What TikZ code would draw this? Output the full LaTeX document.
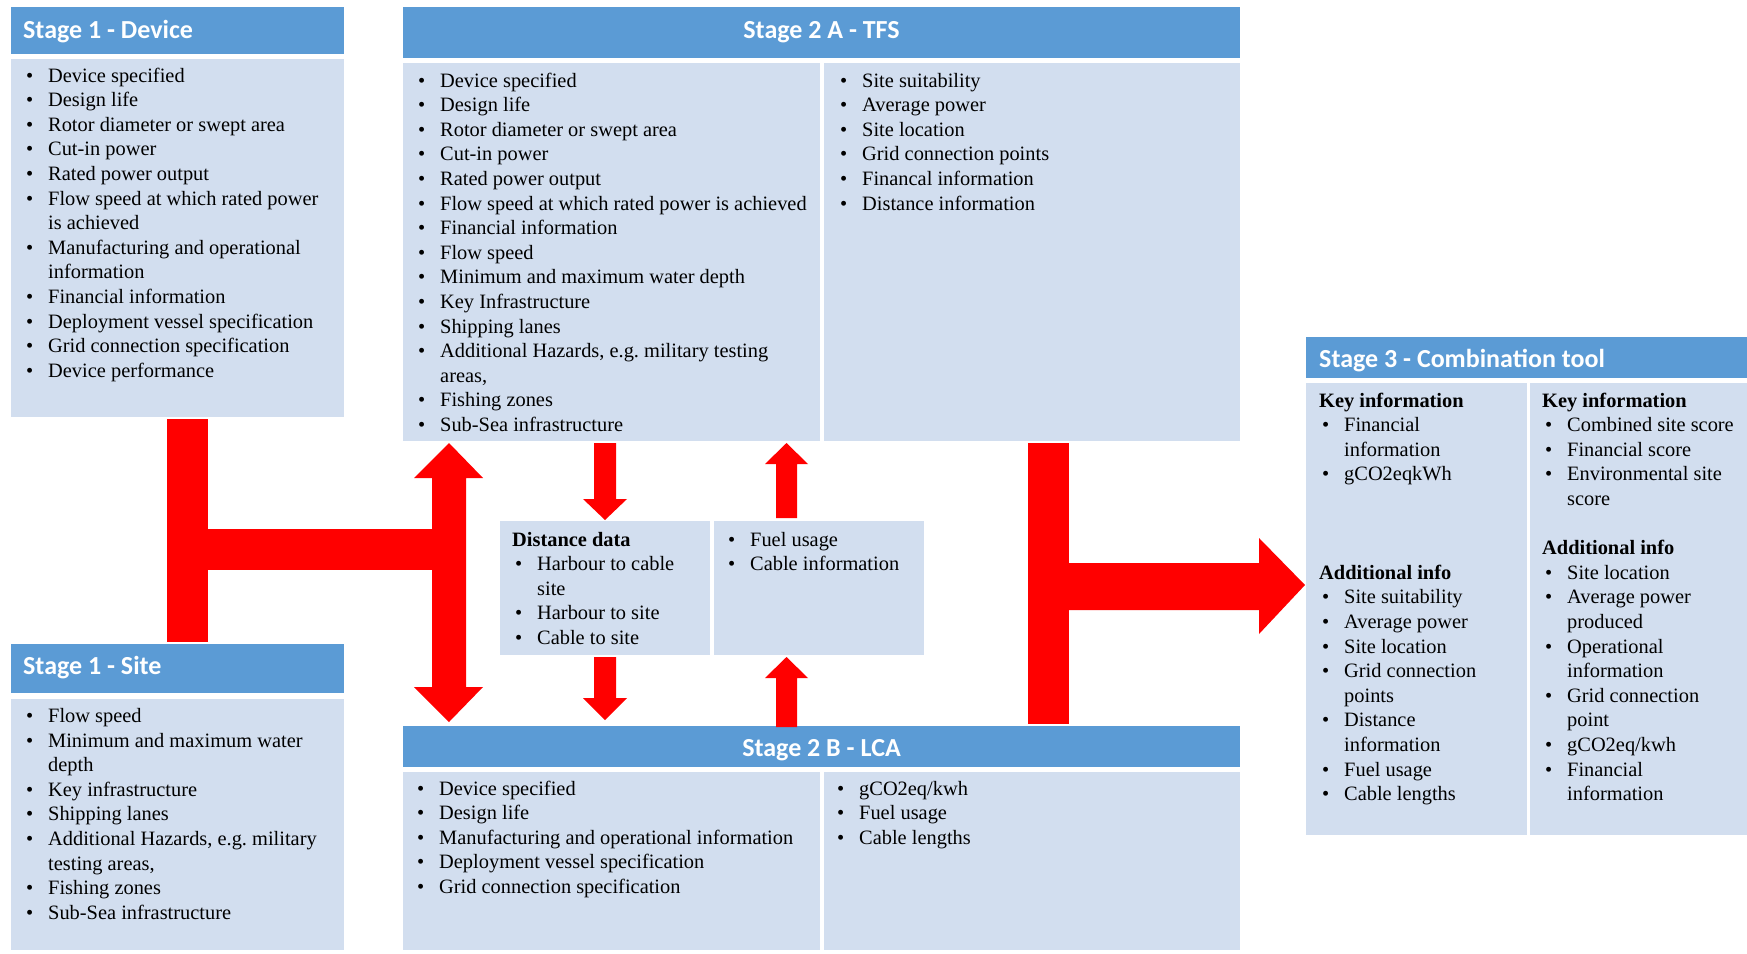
\documentclass[tikz,border=0pt]{standalone}
\usepackage{fontspec}
\setmainfont{Liberation Serif}
\newfontfamily\hdrfont{Carlito}
\definecolor{hdrblue}{HTML}{5B9BD5}
\definecolor{cellblue}{HTML}{D2DEEF}
\definecolor{arrred}{HTML}{FF0000}
\frenchspacing
\newcommand{\bu}{\makebox[25pt][l]{\hspace*{3pt}\textbullet}}
\newcommand{\cn}{\hspace*{25pt}}
\newcommand{\blist}[1]{\fontsize{20.4}{24.6}\selectfont\begin{tabular}[t]{@{}l@{}}#1\end{tabular}}
\begin{document}
\begin{tikzpicture}[x=1pt,y=-1pt,
  hdr/.style={fill=hdrblue,draw=none,inner sep=0pt,outer sep=0pt,anchor=north west},
  cell/.style={fill=cellblue,draw=none,inner sep=0pt,outer sep=0pt,anchor=north west},
  htext/.style={text=white,font=\hdrfont\bfseries\fontsize{26}{30}\selectfont,inner sep=0pt},
  ltext/.style={inner sep=0pt,anchor=base west,text=black,font=\rmfamily},
  blockarrow/.style={fill=arrred,draw=none}]
\fill[white] (0,0) rectangle (1747,953);
\useasboundingbox (0,0) rectangle (1747,953);

% ---------- boxes ----------
\node[hdr,minimum width=333pt,minimum height=47pt] (h1d) at (11,7) {};
\node[cell,minimum width=333pt,minimum height=358pt] (b1d) at (11,59) {};
\node[hdr,minimum width=333pt,minimum height=49pt] (h1s) at (11,644) {};
\node[cell,minimum width=333pt,minimum height=251pt] (b1s) at (11,699) {};
\node[hdr,minimum width=837pt,minimum height=51pt] (h2a) at (403,7) {};
\node[cell,minimum width=417pt,minimum height=378pt] (b2al) at (403,63) {};
\node[cell,minimum width=416pt,minimum height=378pt] (b2ar) at (824,63) {};
\node[cell,minimum width=210pt,minimum height=134pt] (bdl) at (500,521) {};
\node[cell,minimum width=210pt,minimum height=134pt] (bdr) at (714,521) {};
\node[hdr,minimum width=837pt,minimum height=41pt] (h2b) at (403,726) {};
\node[cell,minimum width=417pt,minimum height=178pt] (b2bl) at (403,772) {};
\node[cell,minimum width=416pt,minimum height=178pt] (b2br) at (824,772) {};
\node[hdr,minimum width=441pt,minimum height=41pt] (h3) at (1306,337) {};
\node[cell,minimum width=221pt,minimum height=452pt] (b3l) at (1306,383) {};
\node[cell,minimum width=217pt,minimum height=452pt] (b3r) at (1530,383) {};

% ---------- red block arrows ----------
\fill[blockarrow] (167,419) rectangle (208,642);
\fill[blockarrow] (207,529) rectangle (433,570);
\fill[blockarrow] (449,443) -- (483,478) -- (466,478) -- (466,687) -- (483,687) -- (449,722)
   -- (414,687) -- (432,687) -- (432,478) -- (414,478) -- cycle;
\fill[blockarrow] (594,443) -- (616,443) -- (616,499) -- (627,499) -- (605,520) -- (583,499) -- (594,499) -- cycle;
\fill[blockarrow] (594,657) -- (616,657) -- (616,698) -- (627,698) -- (605,720) -- (583,698) -- (594,698) -- cycle;
\fill[blockarrow] (776,518) -- (797,518) -- (797,464) -- (808,464) -- (786.5,443) -- (765,464) -- (776,464) -- cycle;
\fill[blockarrow] (776,727) -- (797,727) -- (797,678) -- (808,678) -- (786.5,657) -- (765,678) -- (776,678) -- cycle;
\fill[blockarrow] (1028,443) rectangle (1069,724);
\fill[blockarrow] (1068,563) -- (1259,563) -- (1259,538) -- (1305,585) -- (1259,634) -- (1259,610) -- (1068,610) -- cycle;

% ---------- header texts ----------
\node[htext,anchor=base west] (t1d) at (23,38.5) {Stage 1 - Device};
\node[htext,anchor=base] (t2a) at (821.5,38.5) {Stage 2 A - TFS};
\node[htext,anchor=base west] (t1s) at (23,674) {Stage 1 - Site};
\node[htext,anchor=base] (t2b) at (821.5,756) {Stage 2 B - LCA};
\node[htext,anchor=base west] (t3) at (1319,367) {Stage 3 - Combination tool};

% ---------- lists ----------
\node[ltext] (l1d) at (23,82) {\blist{%
\bu Device specified\\
\bu Design life\\
\bu Rotor diameter or swept area\\
\bu Cut-in power\\
\bu Rated power output\\
\bu Flow speed at which rated power\\
\cn is achieved\\
\bu Manufacturing and operational\\
\cn information\\
\bu Financial information\\
\bu Deployment vessel specification\\
\bu Grid connection specification\\
\bu Device performance}};

\node[ltext] (l1s) at (23,722.5) {\blist{%
\bu Flow speed\\
\bu Minimum and maximum water\\
\cn depth\\
\bu Key infrastructure\\
\bu Shipping lanes\\
\bu Additional Hazards, e.g. military\\
\cn testing areas,\\
\bu Fishing zones\\
\bu Sub-Sea infrastructure}};

\node[ltext] (l2al) at (415,87) {\blist{%
\bu Device specified\\
\bu Design life\\
\bu Rotor diameter or swept area\\
\bu Cut-in power\\
\bu Rated power output\\
\bu Flow speed at which rated power is achieved\\
\bu Financial information\\
\bu Flow speed\\
\bu Minimum and maximum water depth\\
\bu Key Infrastructure\\
\bu Shipping lanes\\
\bu Additional Hazards, e.g. military testing\\
\cn areas,\\
\bu Fishing zones\\
\bu Sub-Sea infrastructure}};

\node[ltext] (l2ar) at (837,87) {\blist{%
\bu Site suitability\\
\bu Average power\\
\bu Site location\\
\bu Grid connection points\\
\bu Financal information\\
\bu Distance information}};

\node[ltext] (ldl) at (512,546) {\blist{%
\textbf{Distance data}\\
\bu Harbour to cable\\
\cn site\\
\bu Harbour to site\\
\bu Cable to site}};

\node[ltext] (ldr) at (725,546) {\blist{%
\bu Fuel usage\\
\bu Cable information}};

\node[ltext] (l2bl) at (414,795) {\blist{%
\bu Device specified\\
\bu Design life\\
\bu Manufacturing and operational information\\
\bu Deployment vessel specification\\
\bu Grid connection specification}};

\node[ltext] (l2br) at (834,795) {\blist{%
\bu gCO2eq/kwh\\
\bu Fuel usage\\
\bu Cable lengths}};

\node[ltext] (l3l) at (1319,407) {\blist{%
\textbf{Key information}\\
\bu Financial\\
\cn information\\
\bu gCO2eqkWh\\
{}\\
{}\\
{}\\
\textbf{Additional info}\\
\bu Site suitability\\
\bu Average power\\
\bu Site location\\
\bu Grid connection\\
\cn points\\
\bu Distance\\
\cn information\\
\bu Fuel usage\\
\bu Cable lengths}};

\node[ltext] (l3r) at (1542,407) {\blist{%
\textbf{Key information}\\
\bu Combined site score\\
\bu Financial score\\
\bu Environmental site\\
\cn score\\
{}\\
\textbf{Additional info}\\
\bu Site location\\
\bu Average power\\
\cn produced\\
\bu Operational\\
\cn information\\
\bu Grid connection\\
\cn point\\
\bu gCO2eq/kwh\\
\bu Financial\\
\cn information}};
\end{tikzpicture}
\end{document}
